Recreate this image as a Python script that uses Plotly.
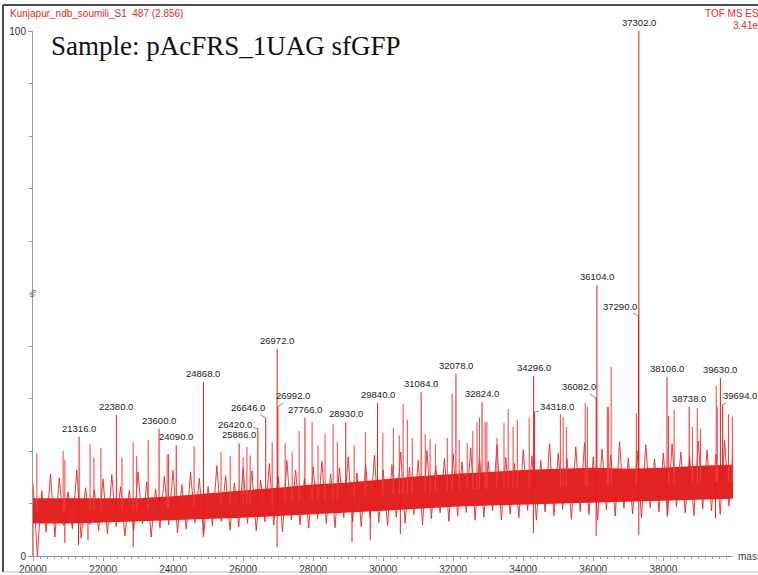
import numpy as np
import plotly.graph_objects as go

# Dense core of the baseline noise (relative intensity %, every 1000 Da)
core_mass = list(range(20000, 40001, 1000))
core_low = [6.2, 6.2, 6.4, 6.6, 6.8, 7.0, 7.3, 7.6, 7.9, 8.2, 8.6,
            9.0, 9.4, 9.6, 9.8, 10.0, 10.2, 10.3, 10.5, 10.7, 10.9]
core_high = [11.0, 11.0, 10.9, 11.0, 11.4, 12.0, 12.5, 13.0, 13.6, 14.0, 14.6,
             15.2, 15.6, 16.0, 16.4, 16.6, 16.8, 16.6, 16.8, 17.2, 17.4]

# Outer edges of the noise, every 250 Da (upper edge) and offset by 125 Da (lower edge)
edge_mass = list(range(20000, 40001, 250))
edge_high = [13.8, 12.4, 15.6, 14.9, 12.2, 16.4, 13.0, 12.6, 14.7,
             15.5, 13.2, 12.5, 16.0, 14.1, 12.8, 15.2, 16.3,
             13.6, 15.9, 14.8, 13.2, 17.2, 15.3, 13.9, 16.8,
             16.2, 14.4, 17.6, 15.1, 18.2, 16.4, 14.7, 17.0,
             18.0, 15.6, 16.8, 18.9, 15.8, 17.5, 19.2, 16.4,
             17.4, 19.8, 16.9, 18.2, 20.1, 17.2, 18.6, 19.4,
             17.9, 20.6, 19.2, 18.0, 21.2, 18.8, 17.6, 20.2,
             19.1, 18.2, 21.4, 19.6, 18.6, 20.8, 21.6, 18.9,
             20.4, 19.2, 21.8, 18.7, 20.0, 21.2, 18.5, 19.6,
             21.4, 19.8, 18.9, 21.9, 20.2, 19.4, 22.0, 20.6]
edge_low = [0.0, 4.6, 3.6, 5.8, 5.2, 3.4, 6.0, 4.8, 4.2,
            5.6, 3.8, 4.9, 6.1, 3.6, 5.3, 5.9, 4.4,
            5.1, 6.3, 4.2, 5.7, 6.6, 4.9, 5.5, 6.2,
            4.8, 6.5, 5.9, 4.6, 6.9, 6.0, 5.3, 7.1,
            6.2, 5.4, 7.3, 6.6, 5.6, 7.2, 6.4, 5.8,
            7.4, 6.2, 7.9, 5.9, 7.1, 8.2, 6.6, 7.6,
            8.3, 6.8, 7.4, 8.6, 6.9, 8.0, 7.3, 8.7,
            6.8, 8.4, 7.7, 8.9, 7.0, 8.5, 7.9, 6.9,
            8.8, 7.6, 9.1, 8.0, 7.3, 9.2, 8.4, 7.8,
            9.4, 8.2, 7.7, 9.0, 8.6, 7.9, 9.5, 8.8]

# Annotated deconvoluted masses and their relative intensities
peak_mass = [21316, 22380, 23600, 24090, 24868, 25886, 26420, 26646, 26972, 26992,
             27766, 28930, 29840, 31084, 32078, 32824, 34296, 34318, 36082, 36104,
             37290, 37302, 38106, 38738, 39630, 39694]
peak_pct = [22.7, 26.9, 24.2, 21.1, 33.1, 21.5, 24.3, 26.3, 39.4, 28.4,
            26.3, 25.5, 29.1, 31.2, 34.7, 29.3, 34.3, 27.4, 30.1, 51.6,
            45.7, 100.0, 34.1, 28.4, 33.9, 28.8]

# Labels drawn with a leader line: mass -> (dx, dy) offset of the text in px
leader_offsets = {
    26420: (-23, -4), 26646: (-18, -10), 26992: (15, -11), 34318: (23, -6),
    36082: (-17, -11), 37290: (-18, -10), 39694: (17, -9),
}

# Unlabelled spikes rising above the noise (mass, top %)
spike_mass = [20110, 20860, 20910, 21630, 21740, 21940, 22540, 22860, 22960, 23290,
              23830, 23870, 24600, 25370, 25630, 26000, 26110, 26200, 26830, 27200,
              27400, 27600, 27970, 28140, 28340, 28570, 28690, 29170, 29490, 29990,
              30290, 30460, 30570, 30690, 30830, 31200, 31340, 31490, 31830, 31970,
              32170, 32400, 32560, 32680, 32750, 32910, 32960, 33250, 33450, 33570,
              33710, 33830, 34170, 35060, 35140, 35230, 35770, 35830, 36400, 36430,
              36510, 37230, 38150, 38310, 38830, 38970, 39060, 39510, 39540, 39860,
              39970]
spike_top = [19.6, 20.0, 18.3, 21.3, 18.8, 20.6, 18.8, 21.7, 19.0, 22.1,
             19.4, 19.4, 20.9, 19.8, 19.0, 18.8, 20.8, 19.2, 21.7, 21.5,
             19.8, 23.8, 25.5, 21.1, 23.2, 25.1, 21.7, 21.1, 23.6, 23.4,
             24.4, 23.0, 28.9, 25.9, 22.5, 23.2, 22.3, 21.3, 22.5, 30.9,
             22.1, 21.5, 23.8, 25.5, 26.4, 25.5, 25.5, 22.5, 25.3, 28.0,
             24.6, 25.9, 26.3, 27.0, 26.5, 24.6, 29.1, 28.4, 28.4, 28.4,
             36.0, 27.2, 26.7, 27.8, 24.6, 28.2, 24.2, 32.4, 28.4, 27.0,
             26.5]

# Downward excursions below the noise (mass, bottom %)
dip_mass = [20000, 20910, 21300, 21570, 22860, 24860, 26970, 29110, 29630,
            30490, 34290, 36080, 37300, 38110, 39490]
dip_bottom = [0.0, 2.5, 2.1, 3.0, 1.7, 3.6, 1.7, 2.7, 3.0,
              4.2, 4.4, 3.8, 4.0, 7.4, 7.2]

RED = "#e8191a"
FONT = "Liberation Sans, Arial"


def sticks(xs, y0s, y1s):
    px, py = [], []
    for x, a, b in zip(xs, y0s, y1s):
        px += [x, x, None]
        py += [a, b, None]
    return px, py


fig = go.Figure()

# solid core of the noise
fig.add_trace(go.Scatter(x=core_mass, y=core_low, mode="lines",
                         line=dict(width=0, color=RED), hoverinfo="skip"))
fig.add_trace(go.Scatter(x=core_mass, y=core_high, mode="lines", fill="tonexty",
                         fillcolor="rgba(226,22,22,0.95)", line=dict(width=0, color=RED),
                         hoverinfo="skip"))

# jagged trace running between the upper and lower noise edges
zig_x, zig_y = [], []
for m, hi, lo in zip(edge_mass, edge_high, edge_low):
    zig_x += [m, m + 125]
    zig_y += [hi, lo]
fig.add_trace(go.Scatter(x=zig_x, y=zig_y, mode="lines",
                         line=dict(width=0.9, color="#e62626"), hoverinfo="skip"))

core_mid = (np.array(core_low) + np.array(core_high)) / 2
mid = lambda m: np.interp(m, core_mass, core_mid)

sx, sy = sticks(spike_mass, mid(spike_mass), spike_top)
fig.add_trace(go.Scatter(x=sx, y=sy, mode="lines", line=dict(width=1, color="#ee4040"),
                         hoverinfo="skip"))
dx, dy = sticks(dip_mass, mid(dip_mass), dip_bottom)
fig.add_trace(go.Scatter(x=dx, y=dy, mode="lines", line=dict(width=1, color=RED),
                         hoverinfo="skip"))
px_, py_ = sticks(peak_mass, mid(peak_mass), peak_pct)
fig.add_trace(go.Scatter(x=px_, y=py_, mode="lines", line=dict(width=1, color=RED),
                         hoverinfo="skip"))

# peak labels
for m, p in zip(peak_mass, peak_pct):
    label = f"{m:.1f}"
    if m in leader_offsets:
        ox, oy = leader_offsets[m]
        fig.add_annotation(x=m, y=p, text=label, showarrow=True, ax=ox, ay=oy,
                           arrowhead=0, arrowwidth=0.7, arrowcolor="#555555", standoff=0,
                           font=dict(family=FONT, size=9.5, color="#222222"))
    else:
        fig.add_annotation(x=m, y=p, text=label, showarrow=False, yanchor="bottom",
                           yshift=1, font=dict(family=FONT, size=9.5, color="#222222"))

# header texts (the right-hand ones run off the page edge)
fig.add_annotation(xref="paper", yref="paper", x=-0.0357, y=1.0324, xanchor="left",
                   yanchor="middle", showarrow=False,
                   text="Kunjapur_ndb_soumili_S1  487 (2.856)",
                   font=dict(family=FONT, size=10, color="#e8292b"))
fig.add_annotation(xref="paper", yref="paper", x=(703 - 33) / 700, y=(556 - 14) / 525,
                   xanchor="left", yanchor="middle", showarrow=False, text="TOF MS ES+",
                   font=dict(family=FONT, size=10, color="#e8292b"))
fig.add_annotation(xref="paper", yref="paper", x=(731 - 33) / 700, y=(556 - 25) / 525,
                   xanchor="left", yanchor="middle", showarrow=False, text="3.41e4",
                   font=dict(family=FONT, size=10, color="#e8292b"))
fig.add_annotation(xref="paper", yref="paper", x=(49 - 33) / 700, y=(556 - 46) / 525,
                   xanchor="left", yanchor="middle", showarrow=False,
                   text="Sample: pAcFRS_1UAG sfGFP",
                   font=dict(family="Liberation Serif, Times New Roman", size=27, color="#111111"))
fig.add_annotation(xref="paper", yref="paper", x=1.005, y=0, xanchor="left",
                   yanchor="middle", showarrow=False, text="mass",
                   font=dict(family=FONT, size=10, color="#444444"))
fig.add_annotation(xref="paper", yref="y", x=(25 - 33) / 700, y=50, textangle=-90,
                   showarrow=False, text="%",
                   font=dict(family=FONT, size=9, color="#555555"))

# frame lines around the page
fig.add_shape(type="line", xref="paper", yref="paper", x0=-30 / 700, x1=1.04,
              y0=551 / 525, y1=551 / 525, line=dict(color="#111111", width=1.5))
fig.add_shape(type="line", xref="paper", yref="paper", x0=-30 / 700, x1=-30 / 700,
              y0=551 / 525, y1=-16 / 525, line=dict(color="#111111", width=1.5))
fig.add_shape(type="line", xref="paper", yref="paper", x0=-30 / 700, x1=1.04,
              y0=-16 / 525, y1=-16 / 525, line=dict(color="#bbbbbb", width=1))

axis_font = dict(family=FONT, size=10, color="#333333")
fig.update_layout(
    width=758, height=575,
    margin=dict(l=33, r=25, t=31, b=19),
    plot_bgcolor="white", paper_bgcolor="white",
    showlegend=False,
    xaxis=dict(range=[20000, 39990], tick0=20000, dtick=2000, tickformat="d",
               automargin=False,
               showline=True, linecolor="#9a9a9a", linewidth=1,
               ticks="outside", ticklen=4, tickcolor="#9a9a9a",
               showgrid=False, zeroline=False, tickfont=axis_font,
               minor=dict(dtick=200, ticks="outside", ticklen=2, tickcolor="#9a9a9a")),
    yaxis=dict(range=[0, 100], tickvals=[0, 100], automargin=False,
               showline=True, linecolor="#9a9a9a", linewidth=1,
               ticks="outside", ticklen=4, tickcolor="#9a9a9a",
               showgrid=False, zeroline=False, tickfont=axis_font,
               minor=dict(dtick=10, ticks="outside", ticklen=3, tickcolor="#9a9a9a")),
)

fig.write_html("out.html")
